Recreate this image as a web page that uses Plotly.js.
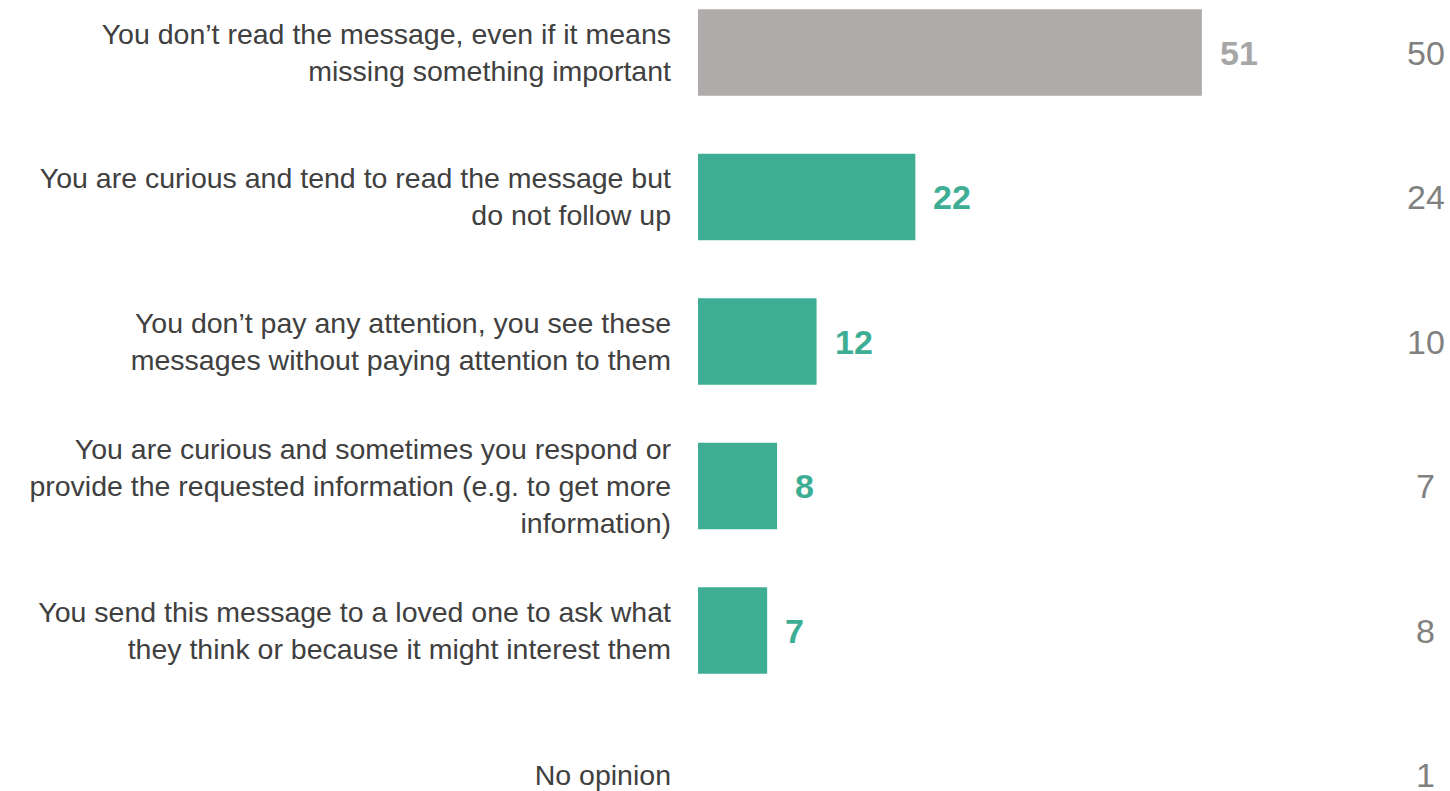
<!DOCTYPE html>
<html>
<head>
<meta charset="utf-8">
<script src="https://cdn.plot.ly/plotly-3.0.1.min.js"></script>
<style>html,body{margin:0;padding:0;background:#fff;}#chart{width:1450px;height:791px;}</style>
</head>
<body>
<div id="chart"></div>
<script>
const categories = [
  "You don’t read the message, even if it means<br>missing something important",
  "You are curious and tend to read the message but<br>do not follow up",
  "You don’t pay any attention, you see these<br>messages without paying attention to them",
  "You are curious and sometimes you respond or<br>provide the requested information (e.g. to get more<br>information)",
  "You send this message to a loved one to ask what<br>they think or because it might interest them",
  "No opinion"
];
const currentValues = [51, 22, 12, 8, 7, 0];
const previousValues = [50, 24, 10, 7, 8, 1];
const barColors = ["#AFABAA", "#3DAE94", "#3DAE94", "#3DAE94", "#3DAE94", "#3DAE94"];
const labelColors = ["#A6A6A6", "#3DAE94", "#3DAE94", "#3DAE94", "#3DAE94", "#3DAE94"];

const trace = {
  type: "bar",
  orientation: "h",
  y: categories,
  x: currentValues,
  width: 0.6,
  marker: {color: barColors},
  hoverinfo: "none"
};

const annotations = [];
currentValues.forEach((v, i) => {
  if (v > 0) {
    annotations.push({
      x: v, y: categories[i], xref: "x", yref: "y",
      text: "<b>" + v + "</b>", showarrow: false,
      xanchor: "left", yanchor: "middle", xshift: 16,
      font: {family: "Liberation Sans, Arial, sans-serif", size: 34, color: labelColors[i]}
    });
  }
});
previousValues.forEach((v, i) => {
  annotations.push({
    x: 0.968, y: categories[i], xref: "paper", yref: "y",
    text: String(v), showarrow: false,
    xanchor: "center", yanchor: "middle",
    font: {family: "Liberation Sans, Arial, sans-serif", size: 34, color: "#808080"}
  });
});

const pxPerUnit = 9.88;
const plotW = 1450 - 698;
const rowPx = 144.5;
const firstRowPx = 52.5;
const layout = {
  width: 1450, height: 791,
  margin: {l: 698, r: 0, t: 0, b: 0},
  paper_bgcolor: "#fff", plot_bgcolor: "#fff",
  showlegend: false,
  xaxis: {range: [0, plotW / pxPerUnit], visible: false, fixedrange: true},
  yaxis: {
    type: "category",
    range: [(791 - firstRowPx) / rowPx, -firstRowPx / rowPx],
    showgrid: false, zeroline: false, showline: false, ticks: "",
    ticklabelstandoff: 26,
    tickfont: {family: "Liberation Sans, Arial, sans-serif", size: 28.5, color: "#404040"},
    fixedrange: true
  },
  annotations: annotations
};

Plotly.newPlot("chart", [trace], layout, {displayModeBar: false, staticPlot: true});
</script>
</body>
</html>
